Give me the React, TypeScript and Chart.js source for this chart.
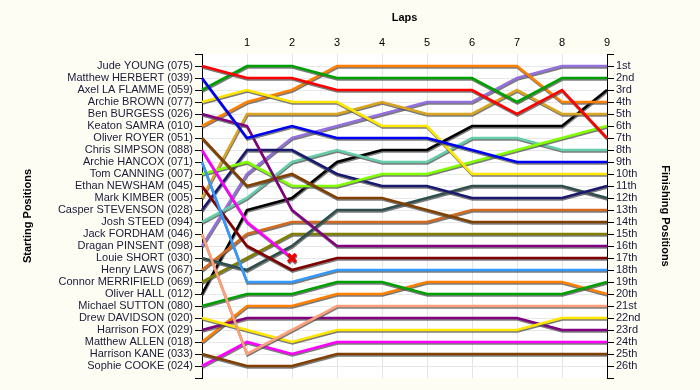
import React, { useEffect, useRef } from 'react';
import { Chart, registerables } from 'chart.js';

Chart.register(...registerables);

const laps = ['0', '1', '2', '3', '4', '5', '6', '7', '8', '9'];

const drivers = [
  'Jude YOUNG (075)', 'Matthew HERBERT (039)', 'Axel LA FLAMME (059)', 'Archie BROWN (077)',
  'Ben BURGESS (026)', 'Keaton SAMRA (010)', 'Oliver ROYER (051)', 'Chris SIMPSON (088)',
  'Archie HANCOX (071)', 'Tom CANNING (007)', 'Ethan NEWSHAM (045)', 'Mark KIMBER (005)',
  'Casper STEVENSON (028)', 'Josh STEED (094)', 'Jack FORDHAM (046)', 'Dragan PINSENT (098)',
  'Louie SHORT (030)', 'Henry LAWS (067)', 'Connor MERRIFIELD (069)', 'Oliver HALL (012)',
  'Michael SUTTON (080)', 'Drew DAVIDSON (020)', 'Harrison FOX (029)', 'Matthew ALLEN (018)',
  'Harrison KANE (033)', 'Sophie COOKE (024)',
];

const driverColors = [
  '#ff0000', '#0000f0', '#00a000', '#ffe600', '#800080', '#ff8000', '#804000', '#ff00ff',
  '#3399ff', '#80ff00', '#800000', '#daa520', '#191970', '#66cdaa', '#ffa07a', '#9370db',
  '#2f4f4f', '#d2691e', '#808000', '#000000', '#00a000', '#ffe600', '#800080', '#ff8000',
  '#804000', '#ff00ff',
];

// position of each driver at lap 0..9 (same order as drivers)
const positions: number[][] = [
  [1, 2, 2, 3, 3, 3, 3, 5, 3, 7],
  [2, 7, 6, 7, 7, 7, 8, 9, 9, 9],
  [3, 1, 1, 2, 2, 2, 2, 4, 2, 2],
  [4, 3, 4, 4, 6, 6, 10, 10, 10, 10],
  [5, 6, 13, 16, 16, 16, 16, 16, 16, 16],
  [6, 4, 3, 1, 1, 1, 1, 1, 4, 4],
  [7, 11, 10, 12, 12, 13, 14, 14, 14, 14],
  [8, 14, 17],
  [9, 19, 19, 18, 18, 18, 18, 18, 18, 18],
  [10, 9, 11, 11, 10, 10, 9, 8, 7, 6],
  [11, 16, 18, 17, 17, 17, 17, 17, 17, 17],
  [12, 5, 5, 5, 4, 5, 5, 3, 5, 5],
  [13, 8, 8, 10, 11, 11, 12, 12, 12, 11],
  [14, 12, 9, 8, 9, 9, 7, 7, 8, 8],
  [15, 25, 23, 21, 21, 21, 21, 21, 21, 21],
  [16, 10, 7, 6, 5, 4, 4, 2, 1, 1],
  [17, 18, 16, 13, 13, 12, 11, 11, 11, 12],
  [18, 15, 14, 14, 14, 14, 13, 13, 13, 13],
  [19, 17, 15, 15, 15, 15, 15, 15, 15, 15],
  [20, 13, 12, 9, 8, 8, 6, 6, 6, 3],
  [21, 20, 20, 19, 19, 20, 20, 20, 20, 19],
  [22, 23, 24, 23, 23, 23, 23, 23, 22, 22],
  [23, 22, 22, 22, 22, 22, 22, 22, 23, 23],
  [24, 21, 21, 20, 20, 19, 19, 19, 19, 20],
  [25, 26, 26, 25, 25, 25, 25, 25, 25, 25],
  [26, 24, 25, 24, 24, 24, 24, 24, 24, 24],
];

const finishLabels = [
  '1st', '2nd', '3rd', '4th', '5th', '6th', '7th', '8th', '9th', '10th', '11th', '12th', '13th',
  '14th', '15th', '16th', '17th', '18th', '19th', '20th', '21st', '22nd', '23rd', '24th', '25th', '26th',
];

const PAGE_BG = '#fdfdf3';
const FONT = 'Liberation Sans';

export default function App() {
  const ref = useRef<HTMLCanvasElement>(null);

  useEffect(() => {
    const bgPlugin = {
      id: 'bg',
      beforeDraw(chart: any) {
        const { ctx, chartArea } = chart;
        ctx.save();
        ctx.fillStyle = PAGE_BG;
        ctx.fillRect(0, 0, chart.width, chart.height);
        ctx.fillStyle = '#ffffff';
        ctx.fillRect(chartArea.left, chartArea.top, chartArea.right - chartArea.left, chartArea.bottom - chartArea.top);
        ctx.restore();
      },
    };
    const shadowPlugin = {
      id: 'shadow',
      beforeDatasetDraw(chart: any) {
        const ctx = chart.ctx;
        ctx.save();
        ctx.shadowColor = 'rgba(80,80,80,0.75)';
        ctx.shadowOffsetX = 0.5;
        ctx.shadowOffsetY = 1.5;
        ctx.shadowBlur = 0;
      },
      afterDatasetDraw(chart: any) {
        chart.ctx.restore();
      },
    };

    const datasets = drivers.map((name, i) => {
      const data = positions[i];
      const last = data.length - 1;
      const retired = data.length < laps.length;
      return {
        label: name,
        data,
        borderColor: driverColors[i],
        backgroundColor: driverColors[i],
        borderWidth: 2.6,
        tension: 0,
        fill: false,
        pointRadius: (c: any) => (retired && c.dataIndex === last ? 5.5 : 0),
        pointStyle: 'crossRot',
        pointBorderColor: '#ee0000',
        pointBorderWidth: 3.5,
        pointHoverRadius: 0,
        yAxisID: 'y',
      };
    });

    const ticks28 = (scale: any) => {
      scale.ticks = Array.from({ length: 28 }, (_, i) => ({ value: i }));
    };
    const gridColor = (c: any) => {
      const v = c.tick ? c.tick.value : -1;
      return v === 0 || v === 27 ? 'rgba(0,0,0,0)' : '#e8e8e8';
    };

    const chart = new Chart(ref.current!, {
      type: 'line',
      data: { labels: laps, datasets: datasets as any },
      plugins: [bgPlugin, shadowPlugin],
      options: {
        animation: false,
        responsive: false,
        maintainAspectRatio: false,
        layout: { padding: { top: 0, bottom: 12, left: 0, right: 0 } },
        plugins: { legend: { display: false }, tooltip: { enabled: false } },
        events: [],
        scales: {
          x: {
            type: 'category',
            position: 'top',
            offset: false,
            afterFit: (s: any) => { s.height = 54; },
            border: { display: false },
            grid: { color: '#e4e4e4', drawTicks: false },
            ticks: {
              padding: 4,
              color: '#000',
              font: { family: FONT, size: 11 },
              maxRotation: 0,
              autoSkip: false,
              callback: (_v: any, i: number) => (i === 0 ? '' : laps[i]),
            },
            title: {
              display: true,
              text: 'Laps',
              color: '#000',
              font: { family: FONT, size: 11, weight: 'bold' },
              padding: { top: 11, bottom: 0 },
            },
          },
          y: {
            type: 'linear',
            position: 'left',
            reverse: true,
            min: 0,
            max: 27,
            afterBuildTicks: ticks28,
            afterFit: (s: any) => { s.width = 202; },
            border: { display: true, color: '#000', width: 1 },
            grid: { color: gridColor, tickColor: '#000', tickLength: 7, drawTicks: true },
            ticks: {
              autoSkip: false,
              padding: 2,
              color: '#1a1a3a',
              font: { family: FONT, size: 11 },
              callback: (v: any) => (v >= 1 && v <= 26 ? drivers[v - 1] : ''),
            },
            title: {
              display: true,
              text: 'Starting Positions',
              color: '#000',
              font: { family: FONT, size: 11, weight: 'bold' },
              padding: { top: 21, bottom: 0 },
            },
          },
          y2: {
            type: 'linear',
            position: 'right',
            reverse: true,
            min: 0,
            max: 27,
            afterBuildTicks: ticks28,
            afterFit: (s: any) => { s.width = 93; },
            border: { display: true, color: '#000', width: 1 },
            grid: { drawOnChartArea: false, tickColor: '#000', tickLength: 7, drawTicks: true },
            ticks: {
              autoSkip: false,
              padding: 2,
              color: '#1a1a3a',
              font: { family: FONT, size: 11 },
              callback: (v: any) => (v >= 1 && v <= 26 ? finishLabels[v - 1] : ''),
            },
            title: {
              display: true,
              text: 'Finishing Positions',
              color: '#000',
              font: { family: FONT, size: 11, weight: 'bold' },
              padding: { top: 28, bottom: 0 },
            },
          },
        },
      } as any,
    });
    return () => chart.destroy();
  }, []);

  return (
    <div style={{ position: 'fixed', left: 0, top: 0, width: 700, height: 390, background: PAGE_BG }}>
      <canvas ref={ref} width={700} height={390} style={{ display: 'block', width: 700, height: 390 }} />
    </div>
  );
}
